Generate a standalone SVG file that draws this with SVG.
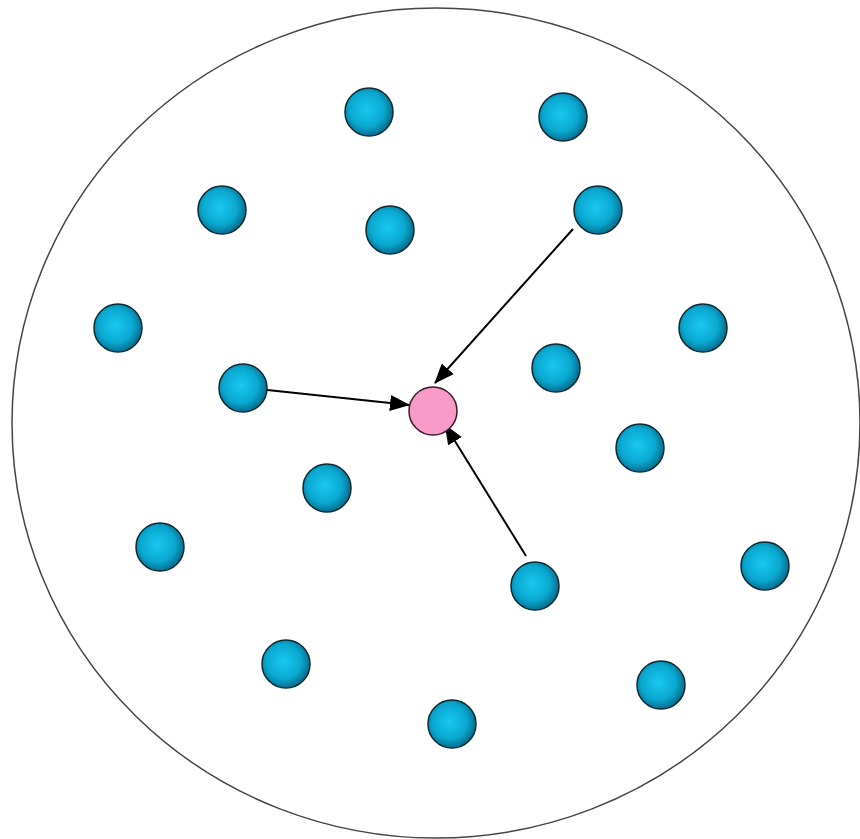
<svg xmlns="http://www.w3.org/2000/svg" width="860" height="839" viewBox="0 0 860 839">
<defs>
<radialGradient id="ballGrad" cx="0.45" cy="0.45" r="0.6">
<stop offset="0" stop-color="#19c8f0"/>
<stop offset="0.6" stop-color="#0aa8d0"/>
<stop offset="1" stop-color="#04607e"/>
</radialGradient>
<marker id="arrow" markerWidth="10" markerHeight="8" refX="9.5" refY="4" orient="auto" markerUnits="userSpaceOnUse" viewBox="0 0 10 8">
<path d="M0,0 L10,4 L0,8 Z" fill="#000"/>
</marker>
<marker id="ah" viewBox="0 0 20 16" refX="19" refY="8" markerWidth="20" markerHeight="16" orient="auto" markerUnits="userSpaceOnUse">
<path d="M0,0 L20,8 L0,16 Z" fill="#000"/>
</marker>
</defs>
<style>
.ball{fill:url(#ballGrad);stroke:#0d2a33;stroke-width:1.5}
.target{fill:#f79ac8;stroke:#3a1a28;stroke-width:1.5}
.conn{stroke:#000;stroke-width:2;fill:none;marker-end:url(#ah)}
.boundary{fill:#fff;stroke:#444;stroke-width:1.5}
</style>
<rect width="860" height="839" fill="#fff"/>
<ellipse id="boundary" class="boundary" cx="436" cy="423" rx="424" ry="415"/>
<g id="connectors">
<line class="conn" x1="573" y1="229" x2="435" y2="383"/>
<line class="conn" x1="258" y1="389" x2="409" y2="405"/>
<line class="conn" x1="526" y1="556" x2="445" y2="425"/>
</g>
<g id="n1"><circle class="ball" cx="369" cy="112" r="24"/></g>
<g id="n2"><circle class="ball" cx="563" cy="117" r="24"/></g>
<g id="n3"><circle class="ball" cx="222" cy="210" r="24"/></g>
<g id="n4"><circle class="ball" cx="390" cy="230" r="24"/></g>
<g id="n5"><circle class="ball" cx="598" cy="210" r="24"/></g>
<g id="n6"><circle class="ball" cx="118" cy="328" r="24"/></g>
<g id="n7"><circle class="ball" cx="703" cy="328" r="24"/></g>
<g id="n8"><circle class="ball" cx="243" cy="388" r="24"/></g>
<g id="n9"><circle class="ball" cx="556" cy="368" r="24"/></g>
<g id="n10"><circle class="ball" cx="640" cy="448" r="24"/></g>
<g id="n11"><circle class="ball" cx="327" cy="488" r="24"/></g>
<g id="n12"><circle class="ball" cx="160" cy="547" r="24"/></g>
<g id="n13"><circle class="ball" cx="535" cy="586" r="24"/></g>
<g id="n14"><circle class="ball" cx="765" cy="566" r="24"/></g>
<g id="n15"><circle class="ball" cx="286" cy="664" r="24"/></g>
<g id="n16"><circle class="ball" cx="661" cy="685" r="24"/></g>
<g id="n17"><circle class="ball" cx="452" cy="724" r="24"/></g>
<g id="target"><circle class="target" cx="433" cy="411" r="24"/></g>
</svg>
